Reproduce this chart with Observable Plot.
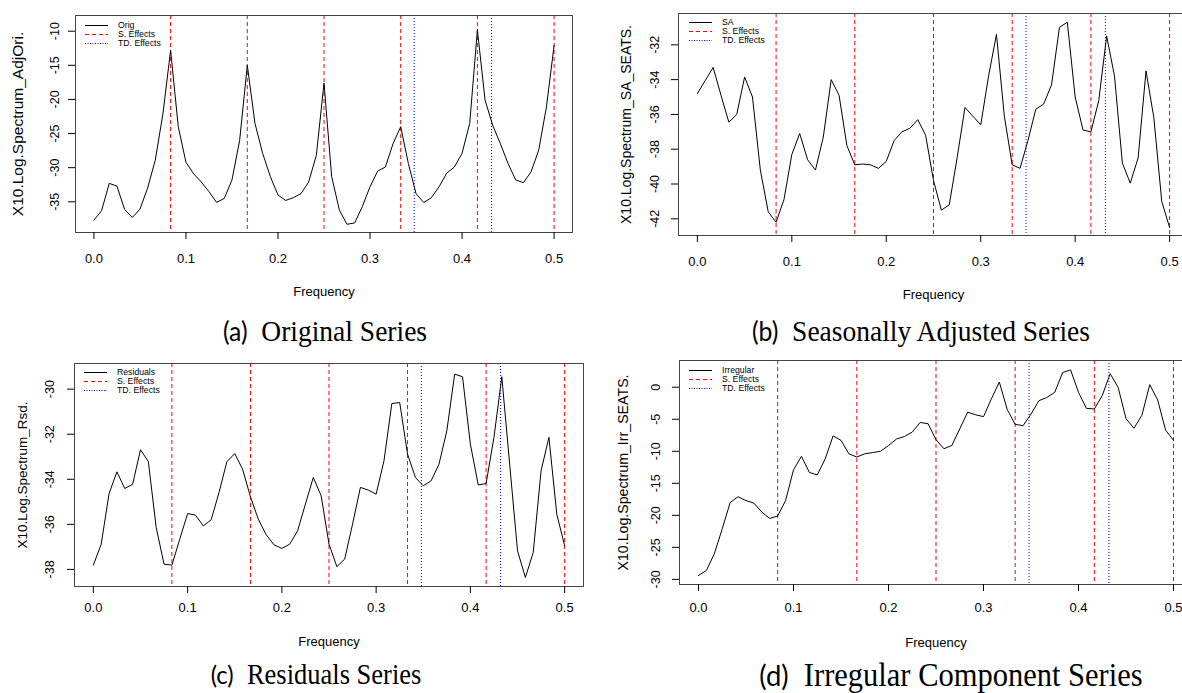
<!DOCTYPE html>
<html><head><meta charset="utf-8">
<script src="https://cdn.jsdelivr.net/npm/d3@7"></script>
<script src="https://cdn.jsdelivr.net/npm/@observablehq/plot@0.6"></script>
<style>
html,body{margin:0;padding:0;background:#fff;overflow:hidden;width:1182px;height:693px}
#root{position:relative;width:1182px;height:693px;overflow:hidden}
.panel{position:absolute}
.legend{position:absolute;font-family:"Liberation Sans",Arial,sans-serif;font-size:8.7px;color:#000}
.legend .row{display:flex;align-items:center;height:9px;white-space:nowrap}
.legend svg{margin-right:10px;display:block}
.cap{position:absolute;white-space:nowrap;transform:translate(-50%,-50%) scaleY(1.08);font-family:"Liberation Serif","Times New Roman",serif;color:#000;line-height:1}
.cap .lab{font-family:Lato,"Open Sans",sans-serif}
</style></head><body><div id="root"></div>
<script>
// Frequencies of the spectrum grid (0 .. 0.5, 61 points)
const freq = [0, 0.00833, 0.01667, 0.025, 0.03333, 0.04167, 0.05, 0.05833, 0.06667, 0.075,
  0.08333, 0.09167, 0.1, 0.10833, 0.11667, 0.125, 0.13333, 0.14167, 0.15, 0.15833,
  0.16667, 0.175, 0.18333, 0.19167, 0.2, 0.20833, 0.21667, 0.225, 0.23333, 0.24167,
  0.25, 0.25833, 0.26667, 0.275, 0.28333, 0.29167, 0.3, 0.30833, 0.31667, 0.325,
  0.33333, 0.34167, 0.35, 0.35833, 0.36667, 0.375, 0.38333, 0.39167, 0.4, 0.40833,
  0.41667, 0.425, 0.43333, 0.44167, 0.45, 0.45833, 0.46667, 0.475, 0.48333, 0.49167, 0.5];
const seasonalFreq = [0.08333, 0.16667, 0.25, 0.33333, 0.41667, 0.5];
const tdFreq = [0.348, 0.432];
const xTicks = [0, 0.1, 0.2, 0.3, 0.4, 0.5];

const origValues = [-37.7, -36.3, -32.3, -32.7, -36.1, -37.3, -36.1, -33.0, -28.9, -22.1,
  -12.8, -24.0, -29.2, -30.9, -32.1, -33.5, -35.1, -34.5, -31.8, -26.0,
  -15.0, -23.5, -27.9, -31.3, -34.0, -34.8, -34.4, -33.8, -32.1, -28.2,
  -17.6, -31.3, -36.2, -38.3, -38.1, -35.7, -32.8, -30.5, -29.9, -26.5,
  -24.0, -29.4, -33.8, -35.1, -34.4, -32.8, -30.8, -29.9, -27.9, -23.5,
  -9.8, -20.1, -23.8, -26.5, -29.4, -31.8, -32.2, -30.6, -27.4, -21.1, -12.1];
const saValues = [-34.8, -34.05, -33.3, -34.9, -36.45, -36.0, -33.85, -35.0, -39.2, -41.6,
  -42.2, -40.9, -38.3, -37.1, -38.6, -39.2, -37.3, -34.0, -34.9, -37.8,
  -38.9, -38.85, -38.9, -39.1, -38.7, -37.5, -37.0, -36.8, -36.3, -37.2,
  -39.8, -41.5, -41.2, -38.5, -35.6, -36.1, -36.6, -33.8, -31.4, -36.1,
  -38.9, -39.1, -37.5, -35.7, -35.4, -34.3, -31.0, -30.7, -35.0, -36.9,
  -37.0, -35.2, -31.5, -33.8, -38.8, -39.95, -38.5, -33.5, -36.2, -41.0, -42.5];
const rsdValues = [-37.81, -36.88, -34.63, -33.67, -34.41, -34.22, -32.69, -33.21, -36.14, -37.77,
  -37.81, -36.66, -35.52, -35.59, -36.07, -35.80, -34.59, -33.22, -32.86, -33.55,
  -34.78, -35.77, -36.46, -36.91, -37.07, -36.88, -36.29, -35.10, -33.92, -34.73,
  -36.88, -37.88, -37.54, -35.99, -34.36, -34.48, -34.66, -33.18, -30.64, -30.59,
  -32.88, -33.92, -34.29, -34.07, -33.33, -31.85, -29.33, -29.45, -32.44, -34.25,
  -34.19, -32.14, -29.45, -33.33, -37.17, -38.36, -37.25, -33.62, -32.14, -35.55, -36.95];
const irrValues = [-29.4, -28.6, -26.0, -22.1, -18.0, -17.1, -17.7, -18.1, -19.5, -20.5,
  -20.1, -17.7, -12.9, -10.8, -13.3, -13.7, -11.2, -7.6, -8.3, -10.4,
  -10.9, -10.4, -10.2, -10.0, -9.1, -8.1, -7.7, -7.0, -5.5, -5.7,
  -8.2, -9.6, -9.1, -6.5, -3.9, -4.3, -4.6, -1.8, 0.8, -3.5,
  -5.8, -6.0, -4.2, -2.1, -1.6, -0.8, 2.3, 2.7, -0.8, -3.3,
  -3.4, -1.3, 2.1, 0.0, -4.9, -6.4, -4.4, 0.4, -2.0, -6.7, -8.3];

const yTicksOrig = [-35, -30, -25, -20, -15, -10];
const yTicksSA = [-42, -40, -38, -36, -34, -32];
const yTicksRsd = [-38, -36, -34, -32, -30];
const yTicksIrr = [-30, -25, -20, -15, -10, -5, 0];

const seriesNames = ["Orig", "SA", "Residuals", "Irregular"];
const effectNames = ["S. Effects", "TD. Effects"];
const yLabels = ["X10.Log.Spectrum_AdjOri.", "X10.Log.Spectrum_SA_SEATS.", "X10.Log.Spectrum_Rsd.", "X10.Log.Spectrum_Irr_SEATS."];
const captionTags = ["(a)", "(b)", "(c)", "(d)"];
const captionTexts = ["Original Series", "Seasonally Adjusted Series", "Residuals Series", "Irregular Component Series"];
const xLabel = "Frequency";

// layout (page pixels)
const layout = [
  {values: origValues, yTicks: yTicksOrig, yDomain: [-39.5, -7.7], svgLeft: 0, svgTop: 0, H: 320,
   frame: [75, 572, 15, 232], xTickY: 258, xLabelY: 295, yLabelX: 18, yTickX: 54, yLabelSize: 15.5,
   legend: [85, 20.5], cap: [325, 331], capSize: 27.5},
  {values: saValues, yTicks: yTicksSA, yDomain: [-42.96, -30.2], svgLeft: 595, svgTop: 0, H: 320,
   frame: [678, 1188, 13, 235], xTickY: 261, xLabelY: 298, yLabelX: 626, yTickX: 654, yLabelSize: 14,
   legend: [689, 17.5], cap: [921, 331], capSize: 27.5},
  {values: rsdValues, yTicks: yTicksRsd, yDomain: [-38.76, -28.86], svgLeft: 0, svgTop: 330, H: 330,
   frame: [74, 583, 363, 586], xTickY: 607, xLabelY: 645, yLabelX: 22, yTickX: 49, yLabelSize: 13.5,
   legend: [84, 367.8], cap: [316, 675], capSize: 26.5},
  {values: irrValues, yTicks: yTicksIrr, yDomain: [-30.8, 4.17], svgLeft: 595, svgTop: 330, H: 330,
   frame: [679, 1192, 360, 584], xTickY: 607, xLabelY: 646, yLabelX: 623, yTickX: 655, yLabelSize: 14.2,
   legend: [689, 365.8], cap: [951, 675], capSize: 30.5}
];

const root = document.getElementById("root");
const W = 600;

function swatch(stroke, dash) {
  const ns = "http://www.w3.org/2000/svg";
  const s = document.createElementNS(ns, "svg");
  s.setAttribute("width", 23); s.setAttribute("height", 3);
  const l = document.createElementNS(ns, "line");
  l.setAttribute("x1", 0); l.setAttribute("x2", 23); l.setAttribute("y1", 1.5); l.setAttribute("y2", 1.5);
  l.setAttribute("stroke", stroke); l.setAttribute("stroke-width", 1);
  if (dash) l.setAttribute("stroke-dasharray", dash);
  s.appendChild(l);
  return s;
}

layout.forEach((p, i) => {
  const [fx0, fx1, fy0, fy1] = p.frame;
  const rows = freq.map((f, k) => ({f, v: p.values[k]}));
  const chart = Plot.plot({
    width: W, height: p.H,
    marginLeft: fx0 - p.svgLeft, marginRight: p.svgLeft + W - fx1,
    marginTop: fy0 - p.svgTop, marginBottom: p.svgTop + p.H - fy1,
    x: {domain: [-0.02, 0.52]},
    y: {domain: p.yDomain},
    style: {fontFamily: '"Liberation Sans", Arial, sans-serif', fontSize: "13px", color: "#000",
            background: "transparent", maxWidth: "none", overflow: "visible"},
    marks: [
      Plot.ruleX(seasonalFreq, {stroke: "#ff0000", strokeDasharray: "4,3"}),
      Plot.ruleX(tdFreq, {stroke: "#0000ff", strokeDasharray: "1,2"}),
      Plot.line(rows, {x: "f", y: "v", stroke: "#000", strokeWidth: 1}),
      Plot.frame({stroke: "#444"}),
      Plot.axisX({ticks: xTicks, tickFormat: d => d.toFixed(1), tickSize: 7,
                  tickPadding: p.xTickY - 4.7 - fy1 - 7, label: null, fontSize: 13}),
      Plot.axisY({ticks: p.yTicks, tickFormat: d => String(d), tickSize: 7, tickRotate: -90,
                  tickPadding: (fx0 - p.yTickX) - 7 - 4, label: null, fontSize: 12.5}),
      Plot.text([yLabels[i]], {text: d => d, frameAnchor: "left", textAnchor: "middle", rotate: -90,
                               dx: p.yLabelX - fx0, fontSize: p.yLabelSize}),
      Plot.text([xLabel], {text: d => d, frameAnchor: "bottom", textAnchor: "middle", dy: p.xLabelY - fy1, fontSize: 13})
    ]
  });
  const div = document.createElement("div");
  div.className = "panel";
  div.style.left = p.svgLeft + "px";
  div.style.top = p.svgTop + "px";
  div.appendChild(chart);
  root.appendChild(div);

  // legend
  const lg = document.createElement("div");
  lg.className = "legend";
  lg.style.left = p.legend[0] + "px";
  lg.style.top = p.legend[1] + "px";
  const items = [[seriesNames[i], "#000", null], [effectNames[0], "#ff0000", "4,3"], [effectNames[1], "#0000ff", "1,1.5"]];
  for (const [name, col, dash] of items) {
    const r = document.createElement("div");
    r.className = "row";
    r.appendChild(swatch(col, dash));
    const t = document.createElement("span");
    t.textContent = name;
    r.appendChild(t);
    lg.appendChild(r);
  }
  root.appendChild(lg);

  // caption
  const cap = document.createElement("div");
  cap.className = "cap";
  cap.style.left = p.cap[0] + "px";
  cap.style.top = p.cap[1] + "px";
  cap.style.fontSize = p.capSize + "px";
  const tag = document.createElement("span");
  tag.className = "lab";
  tag.style.fontSize = (p.capSize * 0.9) + "px";
  tag.textContent = captionTags[i];
  cap.appendChild(tag);
  cap.appendChild(document.createTextNode("\u00a0\u00a0" + captionTexts[i]));
  root.appendChild(cap);
});
</script>
</body></html>
